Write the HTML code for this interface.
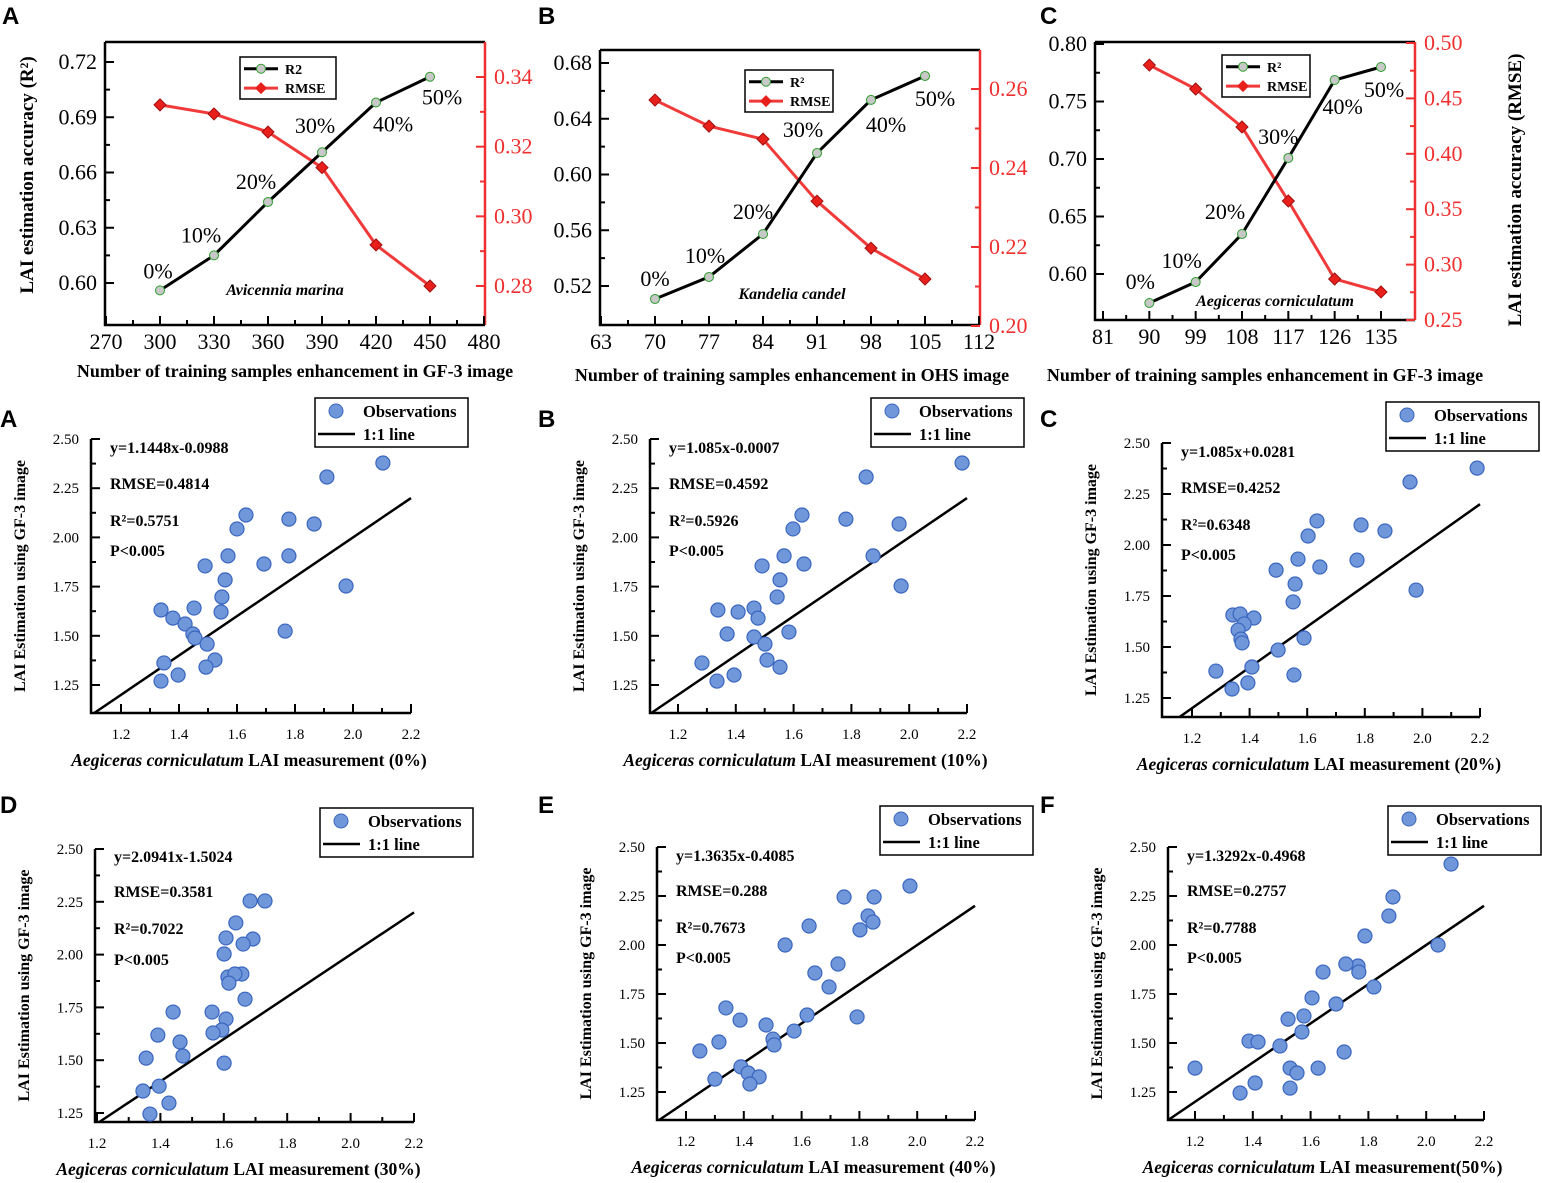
<!DOCTYPE html>
<html><head><meta charset="utf-8"><style>
body{margin:0;background:#fff}
svg{display:block}
text{font-family:"Liberation Serif",serif}
.lt{font-family:"Liberation Sans",sans-serif;font-weight:bold;font-size:24px}
</style></head><body>
<svg id="fig" width="1542" height="1183" viewBox="0 0 1542 1183" xmlns="http://www.w3.org/2000/svg"></svg>
<script>
// ---- top row line charts data ----
const pctLabels = ["0%","10%","20%","30%","40%","50%"];
const xA = [300,330,360,390,420,450];
const r2A = [0.596,0.615,0.644,0.671,0.698,0.712];
const rmseA = [0.332,0.3294,0.3242,0.314,0.2918,0.280];
const xB = [70,77,84,91,98,105];
const r2B = [0.5107,0.5265,0.5573,0.6154,0.6535,0.6707];
const rmseB = [0.2572,0.2506,0.2473,0.2316,0.2197,0.2119];
const xC = [90,99,108,117,126,135];
const r2C = [0.5748,0.593,0.6348,0.7009,0.7687,0.780];
const rmseC = [0.4801,0.4585,0.4242,0.3574,0.2870,0.2753];
const xTicksA = [270,300,330,360,390,420,450,480];
const xTicksB = [63,70,77,84,91,98,105,112];
const xTicksC = [81,90,99,108,117,126,135];
const yTicksA = ["0.60","0.63","0.66","0.69","0.72"];
const rTicksA = ["0.28","0.30","0.32","0.34"];
const yTicksB = ["0.52","0.56","0.60","0.64","0.68"];
const rTicksB = ["0.20","0.22","0.24","0.26"];
const yTicksC = ["0.60","0.65","0.70","0.75","0.80"];
const rTicksC = ["0.25","0.30","0.35","0.40","0.45","0.50"];

// ---- scatter data (x = measured, y = estimated) ----
const sA_x=[2.103,1.910,1.631,1.600,1.779,1.866,1.569,1.779,1.693,1.490,1.559,1.976,1.548,1.338,1.452,1.545,1.379,1.421,1.448,1.455,1.497,1.766,1.524,1.348,1.493,1.397,1.338];
const sA_y=[2.378,2.307,2.114,2.043,2.093,2.068,1.906,1.906,1.865,1.855,1.784,1.753,1.697,1.631,1.641,1.621,1.590,1.560,1.509,1.489,1.458,1.524,1.377,1.362,1.341,1.301,1.270];
const sB_x=[2.183,1.851,1.629,1.598,1.781,1.965,1.567,1.491,1.875,1.636,1.553,1.543,1.338,1.463,1.408,1.477,1.370,1.463,1.501,1.584,1.283,1.508,1.553,1.394,1.335,1.972];
const sB_y=[2.378,2.307,2.114,2.043,2.093,2.068,1.906,1.855,1.906,1.865,1.784,1.697,1.631,1.641,1.621,1.590,1.509,1.494,1.458,1.519,1.362,1.377,1.341,1.301,1.270,1.753];
const sC_x=[2.190,1.957,1.634,1.603,1.787,1.870,1.568,1.773,1.644,1.492,1.558,1.978,1.551,1.342,1.367,1.415,1.381,1.360,1.370,1.374,1.589,1.499,1.283,1.408,1.554,1.394,1.339];
const sC_y=[2.377,2.309,2.118,2.044,2.098,2.069,1.931,1.926,1.892,1.877,1.809,1.779,1.721,1.657,1.662,1.642,1.613,1.583,1.539,1.520,1.544,1.485,1.382,1.402,1.363,1.324,1.294];
const sD_x=[1.730,1.683,1.638,1.692,1.607,1.661,1.601,1.613,1.657,1.635,1.616,1.667,1.563,1.607,1.440,1.594,1.566,1.392,1.462,1.471,1.355,1.601,1.396,1.345,1.427,1.367];
const sD_y=[2.254,2.254,2.150,2.074,2.079,2.050,2.003,1.894,1.908,1.908,1.865,1.789,1.728,1.695,1.728,1.643,1.629,1.619,1.586,1.520,1.510,1.486,1.377,1.354,1.297,1.245];
const sE_x=[1.975,1.851,1.747,1.626,1.830,1.847,1.802,1.543,1.726,1.646,1.695,1.338,1.619,1.387,1.477,1.574,1.501,1.505,1.314,1.248,1.792,1.390,1.415,1.453,1.421,1.300];
const sE_y=[2.301,2.245,2.245,2.097,2.148,2.117,2.077,2.000,1.903,1.857,1.786,1.679,1.643,1.617,1.592,1.561,1.520,1.490,1.505,1.459,1.633,1.378,1.347,1.327,1.291,1.316];
const sF_x=[2.086,1.885,1.871,2.041,1.788,1.819,1.764,1.767,1.722,1.643,1.605,1.688,1.522,1.577,1.570,1.387,1.418,1.494,1.716,1.626,1.529,1.553,1.200,1.408,1.356,1.529];
const sF_y=[2.413,2.245,2.148,2.000,2.046,1.786,1.893,1.862,1.903,1.862,1.730,1.699,1.622,1.638,1.556,1.510,1.505,1.485,1.454,1.372,1.372,1.347,1.372,1.296,1.245,1.270];
const sxTicks=["1.2","1.4","1.6","1.8","2.0","2.2"];
const syTicks=["1.25","1.50","1.75","2.00","2.25","2.50"];

const NS="http://www.w3.org/2000/svg";
const svg=document.getElementById('fig');
function mk(tag,attrs,parent,txt){const e=document.createElementNS(NS,tag);for(const k in attrs)e.setAttribute(k,attrs[k]);if(txt!==undefined)e.textContent=txt;(parent||svg).appendChild(e);return e;}
function grp(name){const g=mk('g',{});return g;}

[["A",2,24],["B",538,24],["C",1040,24],["A",0,427],["B",538,427],["C",1040,427],["D",0,813],["E",538,813],["F",1040,813]].forEach(p=>{
  const t=mk('text',{x:p[1],y:p[2],class:'lt'},svg,p[0]);
  
  
});

function lineChart(cfg){
  const g=grp(cfg.name);
  const X=v=>cfg.px0+(v-cfg.xmin)/(cfg.xmax-cfg.xmin)*(cfg.px1-cfg.px0);
  const YL=v=>cfg.ly0+(v-cfg.lmin)/(cfg.lmax-cfg.lmin)*(cfg.ly1-cfg.ly0);
  const YR=v=>cfg.ry0+(v-cfg.rmin)/(cfg.rmax-cfg.rmin)*(cfg.ry1-cfg.ry0);
  const L=cfg.box[0],T=cfg.box[1],R=cfg.box[2],B=cfg.box[3];
  mk('path',{d:`M${L},${T}H${R}M${L},${T}V${B}H${R}`,stroke:'#000','stroke-width':2.5,fill:'none'},g);
  mk('line',{x1:R,y1:T,x2:R,y2:B,stroke:'#f03030','stroke-width':2.5},g);
  cfg.xt.forEach((v,i)=>{const x=X(v);mk('line',{x1:x,y1:B,x2:x,y2:B-9,stroke:'#000','stroke-width':2},g);
    if(i<cfg.xt.length-1){const xm=X(v+(cfg.xt[1]-cfg.xt[0])/2);mk('line',{x1:xm,y1:B,x2:xm,y2:B-5,stroke:'#000','stroke-width':2},g);}
    const t=mk('text',{x:x,y:B+24,'text-anchor':'middle','font-size':22},g,String(v));});
  cfg.yt.forEach((s,i)=>{const y=YL(parseFloat(s));mk('line',{x1:L,y1:y,x2:L+9,y2:y,stroke:'#000','stroke-width':2},g);
    if(i<cfg.yt.length-1){const ym=YL(parseFloat(s)+(parseFloat(cfg.yt[1])-parseFloat(cfg.yt[0]))/2);mk('line',{x1:L,y1:ym,x2:L+5,y2:ym,stroke:'#000','stroke-width':2},g);}
    const t=mk('text',{x:L-8,y:y+7,'text-anchor':'end','font-size':22},g,s);});
  cfg.rt.forEach((s,i)=>{const y=YR(parseFloat(s));mk('line',{x1:R,y1:y,x2:R-9,y2:y,stroke:'#f03030','stroke-width':2},g);
    if(i<cfg.rt.length-1){const ym=YR(parseFloat(s)+(parseFloat(cfg.rt[1])-parseFloat(cfg.rt[0]))/2);mk('line',{x1:R,y1:ym,x2:R-5,y2:ym,stroke:'#f03030','stroke-width':2},g);}
    const t=mk('text',{x:R+9,y:y+7,'font-size':22,fill:'#f03030'},g,s);});
  const rp=cfg.x.map((v,i)=>`${X(v)},${YR(cfg.rmse[i])}`).join(' ');
  const rl=mk('polyline',{points:rp,fill:'none',stroke:'#f03a3a','stroke-width':3},g);
  
  cfg.x.forEach((v,i)=>{const x=X(v),y=YR(cfg.rmse[i]);const d=mk('path',{d:`M${x},${y-6}L${x+6},${y}L${x},${y+6}L${x-6},${y}Z`,fill:'#e8201c',stroke:'#a01010','stroke-width':1},g);});
  const lp=cfg.x.map((v,i)=>`${X(v)},${YL(cfg.r2[i])}`).join(' ');
  const ll=mk('polyline',{points:lp,fill:'none',stroke:'#000','stroke-width':3},g);
  
  cfg.x.forEach((v,i)=>{const x=X(v),y=YL(cfg.r2[i]);const c=mk('circle',{cx:x,cy:y,r:4.5,fill:'#c8c8c8',stroke:'#2e9e2e','stroke-width':1},g);
    const o=cfg.lo[i];const t=mk('text',{x:x+o[0],y:y+o[1],'font-size':22,'text-anchor':'middle'},g,pctLabels[i]);});
  const sp=mk('text',{x:cfg.sp[0],y:cfg.sp[1],'font-size':16,'font-style':'italic','font-weight':'bold','text-anchor':'middle'},g,cfg.species);
  
  const lg=grp('legend');g.appendChild(lg);const [lx,ly,lw,lh]=cfg.leg;
  mk('rect',{x:lx,y:ly,width:lw,height:lh,fill:'#fff',stroke:'#000','stroke-width':1.5},lg);
  mk('line',{x1:lx+4,y1:ly+lh*0.28,x2:lx+38,y2:ly+lh*0.28,stroke:'#000','stroke-width':3},lg);
  mk('circle',{cx:lx+21,cy:ly+lh*0.28,r:4.5,fill:'#c8c8c8',stroke:'#2e9e2e'},lg);
  mk('text',{x:lx+45,y:ly+lh*0.28+5,'font-size':14,'font-weight':'bold'},lg,cfg.r2lab);
  mk('line',{x1:lx+4,y1:ly+lh*0.74,x2:lx+38,y2:ly+lh*0.74,stroke:'#f03a3a','stroke-width':3},lg);
  const yy=ly+lh*0.74;mk('path',{d:`M${lx+21},${yy-6}L${lx+27},${yy}L${lx+21},${yy+6}L${lx+15},${yy}Z`,fill:'#e8201c'},lg);
  mk('text',{x:lx+45,y:yy+5,'font-size':14,'font-weight':'bold'},lg,'RMSE');
  const xt=mk('text',{x:cfg.xtitle[0],y:cfg.xtitle[1],'font-size':18,'font-weight':'bold','text-anchor':'middle'},g,cfg.xtitleText);
  
}

lineChart({name:'line-chart-a',box:[105,42,485,325],xmin:270,xmax:480,px0:106,px1:484,lmin:0.60,lmax:0.72,ly0:283,ly1:62,rmin:0.28,rmax:0.34,ry0:286,ry1:77,
 x:xA,r2:r2A,rmse:rmseA,xt:xTicksA,yt:yTicksA,rt:rTicksA,species:'Avicennia marina',sp:[285,295],leg:[240,57,96,42],r2lab:'R2',
 lo:[[-2,-12],[-13,-13],[-12,-13],[-7,-19],[17,29],[12,28]],xtitle:[295,377],xtitleText:'Number of training samples enhancement in GF-3 image'});
lineChart({name:'line-chart-b',box:[600,50,980,325],xmin:63,xmax:112,px0:601,px1:979,lmin:0.52,lmax:0.68,ly0:286,ly1:63,rmin:0.20,rmax:0.26,ry0:326,ry1:89,
 x:xB,r2:r2B,rmse:rmseB,xt:xTicksB,yt:yTicksB,rt:rTicksB,species:'Kandelia candel',sp:[792,299],leg:[745,70,88,42],r2lab:'R²',
 lo:[[0,-13],[-4,-14],[-10,-15],[-14,-16],[15,32],[10,30]],xtitle:[792,381],xtitleText:'Number of training samples enhancement in OHS image'});
lineChart({name:'line-chart-c',box:[1095,42,1415,320],xmin:81,xmax:135,px0:1103,px1:1381,lmin:0.60,lmax:0.80,ly0:274,ly1:44,rmin:0.25,rmax:0.50,ry0:320,ry1:43,
 x:xC,r2:r2C,rmse:rmseC,xt:xTicksC,yt:yTicksC,rt:rTicksC,species:'Aegiceras corniculatum',sp:[1275,306],leg:[1222,55,88,42],r2lab:'R²',
 lo:[[-9,-14],[-14,-14],[-17,-15],[-10,-14],[8,34],[3,30]],xtitle:[1265,381],xtitleText:'Number of training samples enhancement in GF-3 image'});
(function(){
 let t=mk('text',{transform:'translate(33,175) rotate(-90)','font-size':19,'font-weight':'bold','text-anchor':'middle'},svg,'LAI estimation accuracy (R²)');
 
 t=mk('text',{transform:'translate(1521,190) rotate(-90)','font-size':19,'font-weight':'bold','text-anchor':'middle'},svg,'LAI estimation accuracy (RMSE)');
 
})();

function scatter(c){
  const g=grp(c.name);
  const X=v=>c.x12+(v-1.2)*(c.x22-c.x12);
  const Y=v=>c.y125+(v-1.25)/1.25*(c.y250-c.y125);
  const L=c.left,B=c.bottom,R=c.x22,T=c.y250;
  mk('path',{d:`M${L},${T}V${B}H${R}`,stroke:'#000','stroke-width':2.5,fill:'none'},g);
  sxTicks.forEach((s,i)=>{const x=X(parseFloat(s));mk('line',{x1:x,y1:B,x2:x,y2:B-9,stroke:'#000','stroke-width':2},g);
    if(i<5){const xm=X(parseFloat(s)+0.1);mk('line',{x1:xm,y1:B,x2:xm,y2:B-5,stroke:'#000','stroke-width':2},g);}
    const t=mk('text',{x:x,y:B+26,'text-anchor':'middle','font-size':15},g,s);});
  syTicks.forEach((s,i)=>{const y=Y(parseFloat(s));mk('line',{x1:L,y1:y,x2:L+9,y2:y,stroke:'#000','stroke-width':2},g);
    const ym=Y(parseFloat(s)+0.125);if(i<5)mk('line',{x1:L,y1:ym,x2:L+5,y2:ym,stroke:'#000','stroke-width':2},g);
    const t=mk('text',{x:L-12,y:y+5,'text-anchor':'end','font-size':15},g,s);});
  const vx0=1.2+(L-c.x12)/(c.x22-c.x12), vy0=1.25+(B-c.y125)/(c.y250-c.y125)*1.25;
  const v0=Math.max(vx0,vy0);
  const ln=mk('line',{x1:X(v0),y1:Y(v0),x2:X(2.2),y2:Y(2.2),stroke:'#000','stroke-width':2.5},g);
  
  c.xs.forEach((v,i)=>{const p=mk('circle',{cx:X(v),cy:Y(c.ys[i]),r:7,fill:'#6f97d9',stroke:'#3b66bf','stroke-width':1.2},g);
    });
  c.ann.forEach((s,i)=>{const t=mk('text',{x:L+19,y:c.annY[i],'font-size':16,'font-weight':'bold'},g,s);});
  const lg=grp('legend');g.appendChild(lg);const [lx,ly]=c.leg;
  mk('rect',{x:lx,y:ly,width:153,height:49,fill:'#fff',stroke:'#000','stroke-width':1.5},lg);
  mk('circle',{cx:lx+21,cy:ly+13,r:7,fill:'#6f97d9',stroke:'#3b66bf'},lg);
  mk('text',{x:lx+48,y:ly+19,'font-size':16.5,'font-weight':'bold'},lg,'Observations');
  mk('line',{x1:lx+3,y1:ly+36,x2:lx+40,y2:ly+36,stroke:'#000','stroke-width':2.5},lg);
  mk('text',{x:lx+48,y:ly+42,'font-size':16.5,'font-weight':'bold'},lg,'1:1 line');
  const yt=mk('text',{transform:`translate(${L-66},${(T+B)/2}) rotate(-90)`,'font-size':16,'font-weight':'bold','text-anchor':'middle'},g,'LAI Estimation using GF-3 image');
  
  const xt=mk('text',{x:(c.x12+c.x22)/2-17,y:B+53,'font-size':17.5,'font-weight':'bold','text-anchor':'middle'},g);
  
  mk('tspan',{'font-style':'italic'},xt,'Aegiceras corniculatum');
  mk('tspan',{},xt,' LAI measurement'+c.pct);
}
scatter({name:'scatter-0pct',left:91,bottom:713,x12:121,x22:411,y250:439,y125:685,xs:sA_x,ys:sA_y,leg:[315,398],pct:' (0%)',
 ann:['y=1.1448x-0.0988','RMSE=0.4814','R²=0.5751','P<0.005'],annY:[453,489,526,556]});
scatter({name:'scatter-10pct',left:650,bottom:713,x12:678,x22:967,y250:439,y125:685,xs:sB_x,ys:sB_y,leg:[871,398],pct:' (10%)',
 ann:['y=1.085x-0.0007','RMSE=0.4592','R²=0.5926','P<0.005'],annY:[453,489,526,556]});
scatter({name:'scatter-20pct',left:1162,bottom:717,x12:1192,x22:1480,y250:443,y125:698,xs:sC_x,ys:sC_y,leg:[1386,402],pct:' (20%)',
 ann:['y=1.085x+0.0281','RMSE=0.4252','R²=0.6348','P<0.005'],annY:[457,493,530,560]});
scatter({name:'scatter-30pct',left:95,bottom:1122,x12:97,x22:414,y250:849,y125:1113,xs:sD_x,ys:sD_y,leg:[320,808],pct:' (30%)',
 ann:['y=2.0941x-1.5024','RMSE=0.3581','R²=0.7022','P<0.005'],annY:[862,897,934,965]});
scatter({name:'scatter-40pct',left:657,bottom:1120,x12:686,x22:975,y250:847,y125:1092,xs:sE_x,ys:sE_y,leg:[880,806],pct:' (40%)',
 ann:['y=1.3635x-0.4085','RMSE=0.288','R²=0.7673','P<0.005'],annY:[861,896,933,963]});
scatter({name:'scatter-50pct',left:1168,bottom:1120,x12:1195,x22:1484,y250:847,y125:1092,xs:sF_x,ys:sF_y,leg:[1388,806],pct:'(50%)',
 ann:['y=1.3292x-0.4968','RMSE=0.2757','R²=0.7788','P<0.005'],annY:[861,896,933,963]});
</script>
</body></html>
